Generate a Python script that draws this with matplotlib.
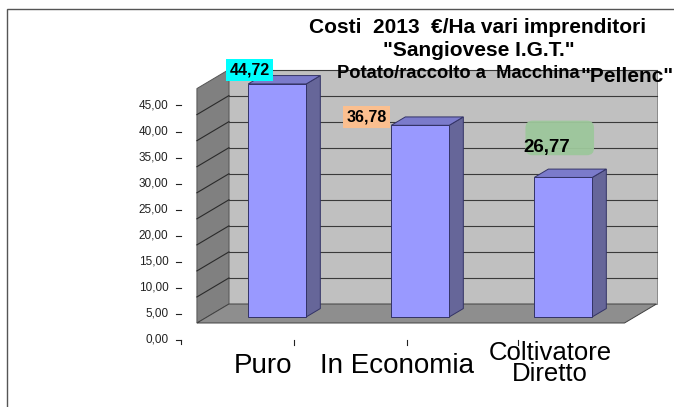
import numpy as np
import matplotlib
matplotlib.use("Agg")
import matplotlib.pyplot as plt
from matplotlib.patches import Polygon, FancyBboxPatch, Rectangle

plt.rcParams['font.family'] = ['Liberation Sans', 'DejaVu Sans']

# dati
categorie = ["Puro", "In Economia", "Coltivatore\nDiretto"]
costi = [44.72, 36.78, 26.77]
etichette = ["44,72", "36,78", "26,77"]
tick_val = [0, 5, 10, 15, 20, 25, 30, 35, 40, 45]
tick_lab = ["0,00", "5,00", "10,00", "15,00", "20,00", "25,00", "30,00", "35,00", "40,00", "45,00"]

W, H = 674, 407
PX, PY = 143.0, 5.21          # pixel per categoria / per unita'
X0, Y0 = 267.0, 323.0         # origine (fronte pavimento)
DX, DY = 32.0 / PX, 19.0 / PY # profondita' 3D
XL, XR = -0.49, 2.50          # estremi pavimento
VMAX = 45
D0, D1 = 0.32, 0.76           # profondita' barre
BW = 58.0 / PX
DLAB = -0.89


def proj(x, v, d):
    return (x + d * DX, v + d * DY)


fig = plt.figure(figsize=(W / 100, H / 100), dpi=100)
ax = fig.add_axes([0, 0, 1, 1])
ax.set_xlim(-X0 / PX, (W - X0) / PX)
ax.set_ylim(-(H - Y0) / PY, Y0 / PY)
ax.axis('off')

# bordo area grafico
fig.patches.append(Rectangle((7 / W, -0.1), 1.2, 1 - 9.5 / H + 0.1, transform=fig.transFigure,
                             fill=False, edgecolor='#555555', lw=1.0, zorder=0))

# pareti e pavimento
side = [proj(XL, 0, 0), proj(XL, 0, 1), proj(XL, VMAX, 1), proj(XL, VMAX, 0)]
back = [proj(XL, 0, 1), proj(XR, 0, 1), proj(XR, VMAX, 1), proj(XL, VMAX, 1)]
floor = [proj(XL, 0, 0), proj(XR, 0, 0), proj(XR, 0, 1), proj(XL, 0, 1)]
ax.add_patch(Polygon(side, closed=True, fc='#808080', ec='#555555', lw=0.7, zorder=1))
ax.add_patch(Polygon(back, closed=True, fc='#C0C0C0', ec='#8a8a8a', lw=0.7, zorder=1))
for v in tick_val[1:-1]:
    ax.plot(*zip(proj(XL, v, 1), proj(XR, v, 1)), color='#3a3a3a', lw=0.8, zorder=2)
    ax.plot(*zip(proj(XL, v, 0), proj(XL, v, 1)), color='#2a2a2a', lw=0.8, zorder=2)
ax.plot(*zip(proj(XL, VMAX, 1), proj(XR, VMAX, 1)), color='#3a3a3a', lw=0.8, zorder=2)
ax.add_patch(Polygon(floor, closed=True, fc='#8E8E8E', ec='#404040', lw=0.7, zorder=3))

# barre
xs = np.arange(len(costi))
fx, by = proj(xs, 0, D0)
ax.bar(fx, costi, width=BW, bottom=by, color='#9999FF', edgecolor='#333366', lw=0.7, zorder=5)
for x, v in zip(xs, costi):
    xr = x + BW / 2
    xl = x - BW / 2
    lato = [proj(xr, 0, D0), proj(xr, 0, D1), proj(xr, v, D1), proj(xr, v, D0)]
    top = [proj(xl, v, D0), proj(xr, v, D0), proj(xr, v, D1), proj(xl, v, D1)]
    ax.add_patch(Polygon(lato, closed=True, fc='#666699', ec='#333366', lw=0.7, zorder=4))
    ax.add_patch(Polygon(top, closed=True, fc='#7B7BCB', ec='#333366', lw=0.7, zorder=4))

# asse y
for v, t in zip(tick_val, tick_lab):
    px, py = proj(XL, v, DLAB)
    ax.text(px, py, t, ha='right', va='center', fontsize=8.5, color='#222222')
    ax.plot([px + 8 / PX, px + 13 / PX], [py, py], color='#222222', lw=0.8)
px, py = proj(XL, 0, DLAB)
ax.plot([px + 13 / PX, px + 13 / PX], [py, py - 4 / PY], color='#222222', lw=0.8)

# asse x
tick_nudge = [55.5, 25.5, -6.5]
lab_nudge = [24.5, 15.5, 25.5]
lab_size = [20, 20, 18.5]
lab_dy = [26, 26, 24]
for x, c, tn, ln, fs, dy in zip(xs, categorie, tick_nudge, lab_nudge, lab_size, lab_dy):
    px, py = proj(x, 0, DLAB)
    ax.plot([px + tn / PX] * 2, [py, py - 5 / PY], color='#222222', lw=0.8)
    ax.text(px + ln / PX, py - dy / PY, c, ha='center', va='center', fontsize=fs,
            linespacing=0.85, color='black')

# etichette dati
box_col = ['#00FFFF', '#FBBF8F', None]
lab_off = [(-27.5, 13.5), (-53.5, 8.5), (-16, 30)]
for x, v, e, bc, (ox, oy) in zip(xs, costi, etichette, box_col, lab_off):
    tx, ty = proj(x, v, D0)
    if bc:
        ax.annotate(e, (tx, ty), xytext=(ox * 0.72, oy * 0.72), textcoords='offset points',
                    ha='center', va='center', fontsize=11.5, fontweight='bold', zorder=8,
                    bbox=dict(boxstyle='square,pad=0.22', fc=bc, ec='none'))
    else:
        gx, gy = tx - 3.5 / PX, ty + 39.5 / PY
        ax.add_patch(FancyBboxPatch((gx - 30 / PX, gy - 13 / PY), 60 / PX, 26 / PY,
                                    boxstyle='round,pad=0.03,rounding_size=0.05',
                                    mutation_aspect=PX / PY,
                                    fc='#9DC79B', ec='none', alpha=0.95, zorder=7))
        ax.annotate(e, (tx, ty), xytext=(ox * 0.72, oy * 0.72), textcoords='offset points',
                    ha='center', va='center', fontsize=13.5, fontweight='bold', zorder=8)

# titolo
def fpos(x, y):
    return x / W, 1 - y / H

fig.text(*fpos(478, 33), "Costi  2013  \u20ac/Ha vari imprenditori", ha='center', va='baseline',
         fontsize=15, fontweight='bold')
fig.text(*fpos(479, 56.5), "\"Sangiovese I.G.T.\"", ha='center', va='baseline',
         fontsize=15, fontweight='bold')
fig.text(*fpos(580, 77.5), "Potato/raccolto a  Macchina", ha='right', va='baseline',
         fontsize=13.2, fontweight='bold')
fig.text(*fpos(580, 82), "\"Pellenc\"", ha='left', va='baseline',
         fontsize=15, fontweight='bold')

fig.savefig("out.png", dpi=100)
